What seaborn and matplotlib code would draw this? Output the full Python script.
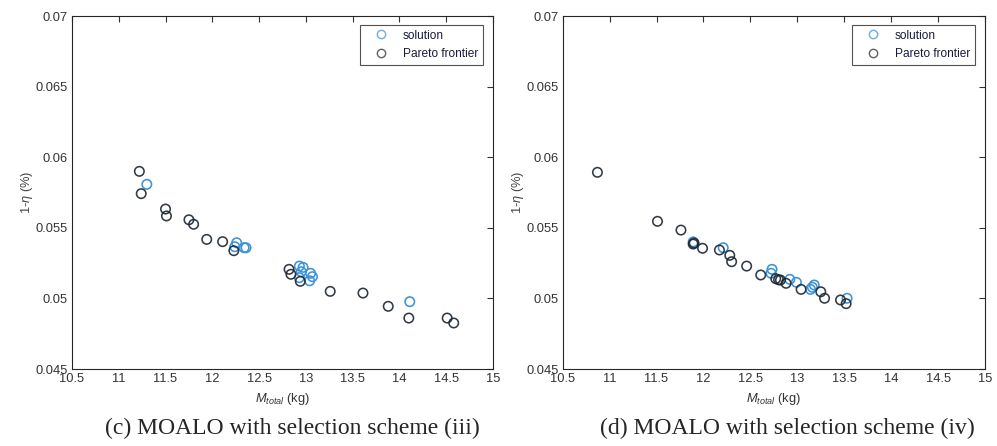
import numpy as np
import pandas as pd
import seaborn as sns
import matplotlib.pyplot as plt
from matplotlib.lines import Line2D
from matplotlib.ticker import FormatStrFormatter

# (c) scheme (iii)
c_sol_x = [11.30, 12.24, 12.26, 12.34, 12.36, 12.93, 12.97, 12.95, 12.93, 13.05, 13.07, 13.04, 14.11]
c_sol_y = [0.05808, 0.05366, 0.05394, 0.05359, 0.05359, 0.05229, 0.05220, 0.05189, 0.05147,
           0.05178, 0.05154, 0.05125, 0.04977]
c_par_x = [11.22, 11.24, 11.50, 11.51, 11.75, 11.80, 11.94, 12.11, 12.23, 12.82, 12.84, 12.94,
           13.26, 13.61, 13.88, 14.10, 14.51, 14.58]
c_par_y = [0.05900, 0.05742, 0.05633, 0.05584, 0.05557, 0.05525, 0.05418, 0.05402, 0.05338,
           0.05206, 0.05171, 0.05121, 0.05050, 0.05038, 0.04944, 0.04861, 0.04861, 0.04826]

# (d) scheme (iv)
d_sol_x = [11.89, 12.21, 12.73, 12.72, 12.92, 12.99, 13.18, 13.16, 13.14, 13.53]
d_sol_y = [0.05400, 0.05359, 0.05206, 0.05178, 0.05135, 0.05114, 0.05095, 0.05079, 0.05064, 0.05001]
d_par_x = [10.87, 11.51, 11.76, 11.89, 11.90, 11.99, 12.17, 12.28, 12.30, 12.46, 12.61, 12.77,
           12.80, 12.82, 12.88, 13.04, 13.25, 13.29, 13.46, 13.52]
d_par_y = [0.05893, 0.05546, 0.05484, 0.05385, 0.05392, 0.05355, 0.05343, 0.05305, 0.05260,
           0.05229, 0.05166, 0.05140, 0.05132, 0.05130, 0.05107, 0.05064, 0.05047, 0.05001,
           0.04989, 0.04963]

captions = ["(c) MOALO with selection scheme (iii)", "(d) MOALO with selection scheme (iv)"]
x_ticks = [10.5, 11, 11.5, 12, 12.5, 13, 13.5, 14, 14.5, 15]
y_ticks = [0.045, 0.05, 0.055, 0.06, 0.065, 0.07]

sol_color = "#3d93d8"
par_color = "#1b2631"

sns.set_style("white")
plt.rcParams["font.family"] = ["Liberation Sans", "DejaVu Sans"]
plt.rcParams["mathtext.fontset"] = "custom"
plt.rcParams["mathtext.rm"] = "Liberation Sans"
plt.rcParams["mathtext.it"] = "Liberation Sans:italic"

fig = plt.figure(figsize=(9.97, 4.46), dpi=100)
ax_c = fig.add_axes([0.0722, 0.1726, 0.4223, 0.7915])
ax_d = fig.add_axes([0.5644, 0.1726, 0.4236, 0.7915])

panels = [
    (ax_c, c_sol_x, c_sol_y, c_par_x, c_par_y),
    (ax_d, d_sol_x, d_sol_y, d_par_x, d_par_y),
]

for i, (ax, sx, sy, px, py) in enumerate(panels):
    sol = pd.DataFrame({"m": sx, "eta": sy})
    par = pd.DataFrame({"m": px, "eta": py})
    sns.scatterplot(data=sol, x="m", y="eta", ax=ax, marker="o", s=46,
                    facecolor="none", edgecolor=sol_color, linewidth=1.15)
    sns.scatterplot(data=par, x="m", y="eta", ax=ax, marker="o", s=46,
                    facecolor="none", edgecolor=par_color, linewidth=1.15, alpha=0.9)

    ax.set_xlim(10.5, 15)
    ax.set_ylim(0.045, 0.07)
    ax.set_xticks(x_ticks)
    ax.set_yticks(y_ticks)
    ax.xaxis.set_major_formatter(FormatStrFormatter("%g"))
    ax.yaxis.set_major_formatter(FormatStrFormatter("%g"))
    ax.tick_params(direction="in", length=4.5, width=0.8, top=True, right=True,
                   labelsize=9.3, colors="#333333", pad=3)
    for sp in ax.spines.values():
        sp.set_color("#262626")
        sp.set_linewidth(0.8)

    ax.set_xlabel(r"$M_{total}$ (kg)", fontsize=9.3, color="#333333", labelpad=4)
    ax.set_ylabel(r"1-$\eta$ $(\%)$", fontsize=9.3, color="#444444", labelpad=0)

    handles = [
        Line2D([], [], linestyle="none", marker="o", markersize=6, markerfacecolor="none",
               markeredgecolor="#6aaee6", markeredgewidth=1.0),
        Line2D([], [], linestyle="none", marker="o", markersize=6, markerfacecolor="none",
               markeredgecolor="#606060", markeredgewidth=1.0),
    ]
    leg = ax.legend(handles, ["solution", "Pareto frontier"], loc="upper right",
                    bbox_to_anchor=(0.985, 0.985), fontsize=8.6, frameon=True, fancybox=False,
                    borderpad=0.4, handletextpad=0.5, handlelength=2.7, labelspacing=0.55,
                    borderaxespad=0.3)
    leg.get_frame().set_edgecolor("#262626")
    leg.get_frame().set_linewidth(0.8)
    for t in leg.get_texts():
        t.set_color("#1a1a40")

fig.text(0.293, 0.040, captions[0], ha="center", va="center",
         family=["Liberation Serif", "DejaVu Serif"], fontsize=17)
fig.text(0.790, 0.040, captions[1], ha="center", va="center",
         family=["Liberation Serif", "DejaVu Serif"], fontsize=17)

fig.savefig("out.png", dpi=100)
